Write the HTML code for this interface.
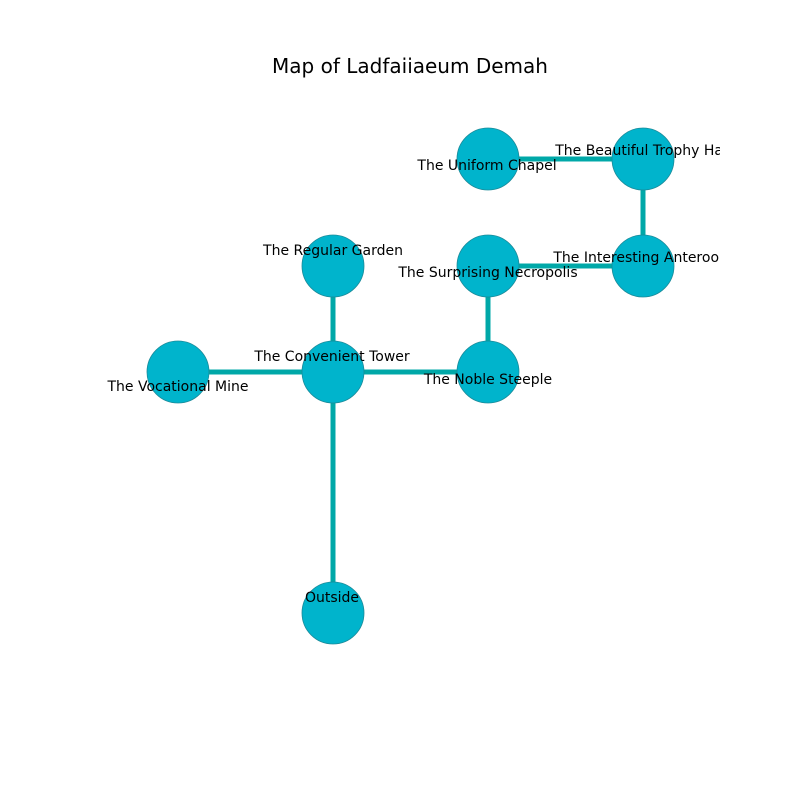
<!DOCTYPE html>
<html><head><style>body{margin:0;background:#fff}svg{display:block}</style></head><body>
<svg width="800" height="800" viewBox="0 0 800 800" xmlns="http://www.w3.org/2000/svg">
<rect width="800" height="800" fill="#fff"/>
<text x="410" y="73" font-family="DejaVu Sans, Liberation Sans, sans-serif" font-size="20" text-anchor="middle" fill="#000">Map of Ladfaiiaeum Demah</text>
<defs><clipPath id="c"><rect x="0" y="0" width="720" height="800"/></clipPath></defs>
<g stroke="#00a8a8" stroke-width="5" fill="none">
<line x1="488" y1="159" x2="643" y2="159"/>
<line x1="643" y1="159" x2="643" y2="266"/>
<line x1="488" y1="266" x2="643" y2="266"/>
<line x1="488" y1="266" x2="488" y2="372"/>
<line x1="333" y1="372" x2="488" y2="372"/>
<line x1="333" y1="266" x2="333" y2="613"/>
<line x1="178" y1="372" x2="333" y2="372"/>
</g>
<g fill="#00b4cc" stroke="#1a8a99" stroke-width="0.8">
<circle cx="488" cy="159" r="31"/>
<circle cx="643" cy="159" r="31"/>
<circle cx="643" cy="266" r="31"/>
<circle cx="488" cy="266" r="31"/>
<circle cx="333" cy="266" r="31"/>
<circle cx="333" cy="372" r="31"/>
<circle cx="178" cy="372" r="31"/>
<circle cx="488" cy="372" r="31"/>
<circle cx="333" cy="613" r="31"/>
</g>
<g font-family="DejaVu Sans, Liberation Sans, sans-serif" font-size="14" text-anchor="middle" fill="#000" clip-path="url(#c)">
<text x="487" y="170">The Uniform Chapel</text>
<text x="643" y="155">The Beautiful Trophy Hall</text>
<text x="643" y="262">The Interesting Anteroom</text>
<text x="488" y="277">The Surprising Necropolis</text>
<text x="333" y="255">The Regular Garden</text>
<text x="332" y="361">The Convenient Tower</text>
<text x="178" y="391">The Vocational Mine</text>
<text x="488" y="384">The Noble Steeple</text>
<text x="332" y="602">Outside</text>
</g>
</svg>
</body></html>
